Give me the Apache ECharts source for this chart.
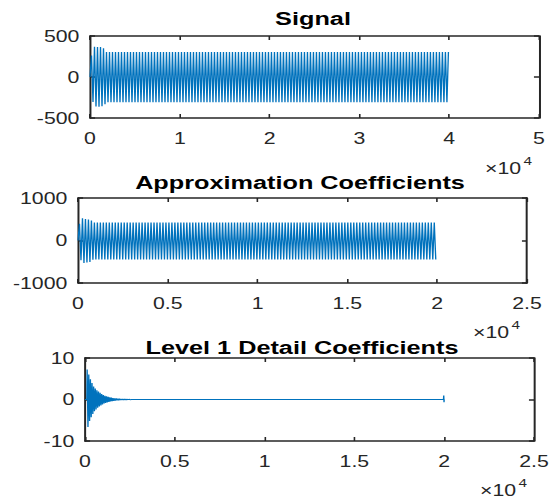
<!DOCTYPE html>
<html>
<head>
<meta charset="utf-8">
<script src="https://cdn.jsdelivr.net/npm/echarts@6/dist/echarts.min.js"></script>
<style>
  html, body { margin: 0; padding: 0; background: #ffffff; overflow: hidden; }
  #wrap { width: 558px; height: 501px; overflow: hidden; }
  #chart { height: 501px; transform-origin: 0 0; }
</style>
</head>
<body>
<div id="wrap"><div id="chart"></div></div>
<script>
// ---- data -------------------------------------------------------------
// Original signal: 40000 samples, extremes listed every signalStep samples
const signalLength = 40000;
const signalStep = 167;
const signalOnset = [0, 262, -306, 368, -360, 366, -362, 365, -356, 350, -332];
const signalSteady = [306, -309];

// Approximation coefficients (level 1): 20000 samples
const approxLength = 20000;
const approxStep = 83;
const approxOnset = [0, 395, -465, 525, -527, 505, -520, 495, -505, 470, -455];
const approxSteady = [424, -446];

// Level 1 detail coefficients: decaying burst then near zero
const detailStart = 120;
const detailStep = 45;
const detailLead = [[0, 0], [100, 0]];
const detailPeaks = [7.2, -6.6, 6.0, -5.2, 4.9, -4.3, 4.0, -3.5, 3.1, -2.8,
  2.65, -2.4, 2.25, -2.0, 1.9, -1.7, 1.6, -1.42, 1.33, -1.18,
  1.1, -0.98, 0.92, -0.82, 0.77, -0.68, 0.64, -0.57, 0.53, -0.47,
  0.44, -0.39, 0.36, -0.32, 0.3, -0.27, 0.25, -0.22, 0.2, -0.18,
  0.17, -0.15, 0.14, -0.12, 0.11, -0.1, 0.09, -0.08, 0.08, -0.07,
  0.06, -0.05, 0.05, -0.04, 0.03];
const detailTailX = [2600, 19960, 19975, 19990, 20000];
const detailTailY = [0, 0, 0.95, -0.65, 0];

// axis ranges / ticks
const signalXTicks = { min: 0, max: 50000, interval: 10000 };
const coefXTicks = { min: 0, max: 25000, interval: 5000 };
const signalY = { min: -500, max: 500, interval: 500 };
const approxY = { min: -1000, max: 1000, interval: 1000 };
const detailY = { min: -10, max: 10, interval: 10 };

const titles = ['Signal', 'Approximation Coefficients', 'Level 1 Detail Coefficients'];

// ---- series builders --------------------------------------------------
function oscillation(onset, steady, step, total) {
  const pts = [];
  let i = 0;
  onset.forEach(v => { pts.push([i * step, v]); i++; });
  while (i * step <= total) {
    pts.push([i * step, steady[(i - onset.length) % 2]]);
    i++;
  }
  return pts;
}
function detailSeries() {
  const pts = detailLead.slice();
  detailPeaks.forEach((v, i) => pts.push([detailStart + i * detailStep, v]));
  detailTailX.forEach((x, i) => pts.push([x, detailTailY[i]]));
  return pts;
}

// ---- layout (text is drawn horizontally stretched) --------------------
const SX = 1.33;
const W = 558 / SX;
const chartEl = document.getElementById('chart');
chartEl.style.width = W + 'px';
chartEl.style.transform = 'scaleX(' + SX + ')';

const FONT = 'Liberation Sans, Arial, Helvetica, sans-serif';
const AXIS = '#262626';
const BLUE = '#0072BD';

const panels = [
  { left: 90, top: 36, width: 449, height: 82 },
  { left: 78, top: 198, width: 449, height: 85 },
  { left: 85, top: 358, width: 449, height: 83 }
];

const grid = panels.map(p => ({
  left: p.left / SX, top: p.top, width: p.width / SX, height: p.height,
  containLabel: false
}));

const axisLine = { show: true, onZero: false, lineStyle: { color: AXIS, width: 1.5 } };
const xFmt = v => String(+(v / 10000).toFixed(1));

const xAxis = [];
const yAxis = [];
const xr = [signalXTicks, coefXTicks, coefXTicks];
const yr = [signalY, approxY, detailY];
panels.forEach((p, g) => {
  xAxis.push({
    type: 'value', gridIndex: g, position: 'bottom',
    min: xr[g].min, max: xr[g].max, interval: xr[g].interval,
    axisLine: axisLine,
    axisTick: { show: true, inside: true, length: 4, lineStyle: { color: AXIS, width: 1.2 } },
    axisLabel: { show: true, margin: 12, color: AXIS, fontSize: 16, fontFamily: FONT, formatter: xFmt },
    splitLine: { show: false }
  });
  xAxis.push({
    type: 'value', gridIndex: g, position: 'top',
    min: xr[g].min, max: xr[g].max, interval: xr[g].interval,
    axisLine: axisLine,
    axisTick: { show: true, inside: true, length: 4, lineStyle: { color: AXIS, width: 1.2 } },
    axisLabel: { show: false },
    splitLine: { show: false }
  });
  yAxis.push({
    type: 'value', gridIndex: g, position: 'left',
    min: yr[g].min, max: yr[g].max, interval: yr[g].interval,
    axisLine: axisLine,
    axisTick: { show: true, inside: true, length: 3.8, lineStyle: { color: AXIS, width: 1.5 } },
    axisLabel: { show: true, margin: 8, color: AXIS, fontSize: 16, fontFamily: FONT, formatter: v => String(v) },
    splitLine: { show: false }
  });
  yAxis.push({
    type: 'value', gridIndex: g, position: 'right',
    min: yr[g].min, max: yr[g].max, interval: yr[g].interval,
    axisLine: axisLine,
    axisTick: { show: true, inside: true, length: 3.8, lineStyle: { color: AXIS, width: 1.5 } },
    axisLabel: { show: false },
    splitLine: { show: false }
  });
});

const seriesData = [
  oscillation(signalOnset, signalSteady, signalStep, signalLength),
  oscillation(approxOnset, approxSteady, approxStep, approxLength),
  detailSeries()
];

const series = seriesData.map((d, g) => ({
  type: 'line', xAxisIndex: g * 2, yAxisIndex: g * 2,
  data: d, showSymbol: false, symbol: 'none', sampling: null,
  lineStyle: { color: BLUE, width: 1 },
  animation: false, silent: true
}));

// titles and exponent labels (display coordinates)
const titleSpots = [
  { cx: 313, top: 9 },
  { cx: 300, top: 173 },
  { cx: 302, top: 338.5 }
];
const expSpots = [
  { left: 485, top: 160 },
  { left: 473, top: 324 },
  { left: 480, top: 482 }
];
const title = [];
titles.forEach((t, i) => {
  title.push({
    text: t, left: titleSpots[i].cx / SX, top: titleSpots[i].top, textAlign: 'center', padding: 0,
    textStyle: { fontFamily: FONT, fontWeight: 'bold', fontSize: 19, color: '#000000' }
  });
});
expSpots.forEach(s => {
  title.push({
    text: '×10', left: s.left / SX, top: s.top, padding: 0,
    textStyle: { fontFamily: FONT, fontWeight: 'normal', fontSize: 16, color: AXIS }
  });
  title.push({
    text: '4', left: (s.left + 38.5) / SX, top: s.top - 4.5, padding: 0,
    textStyle: { fontFamily: FONT, fontWeight: 'normal', fontSize: 11.5, color: AXIS }
  });
});

const chart = echarts.init(chartEl, null, { renderer: 'svg', width: W, height: 501 });
chart.setOption({
  animation: false,
  backgroundColor: '#ffffff',
  title: title,
  grid: grid,
  xAxis: xAxis,
  yAxis: yAxis,
  series: series
});
</script>
</body>
</html>
